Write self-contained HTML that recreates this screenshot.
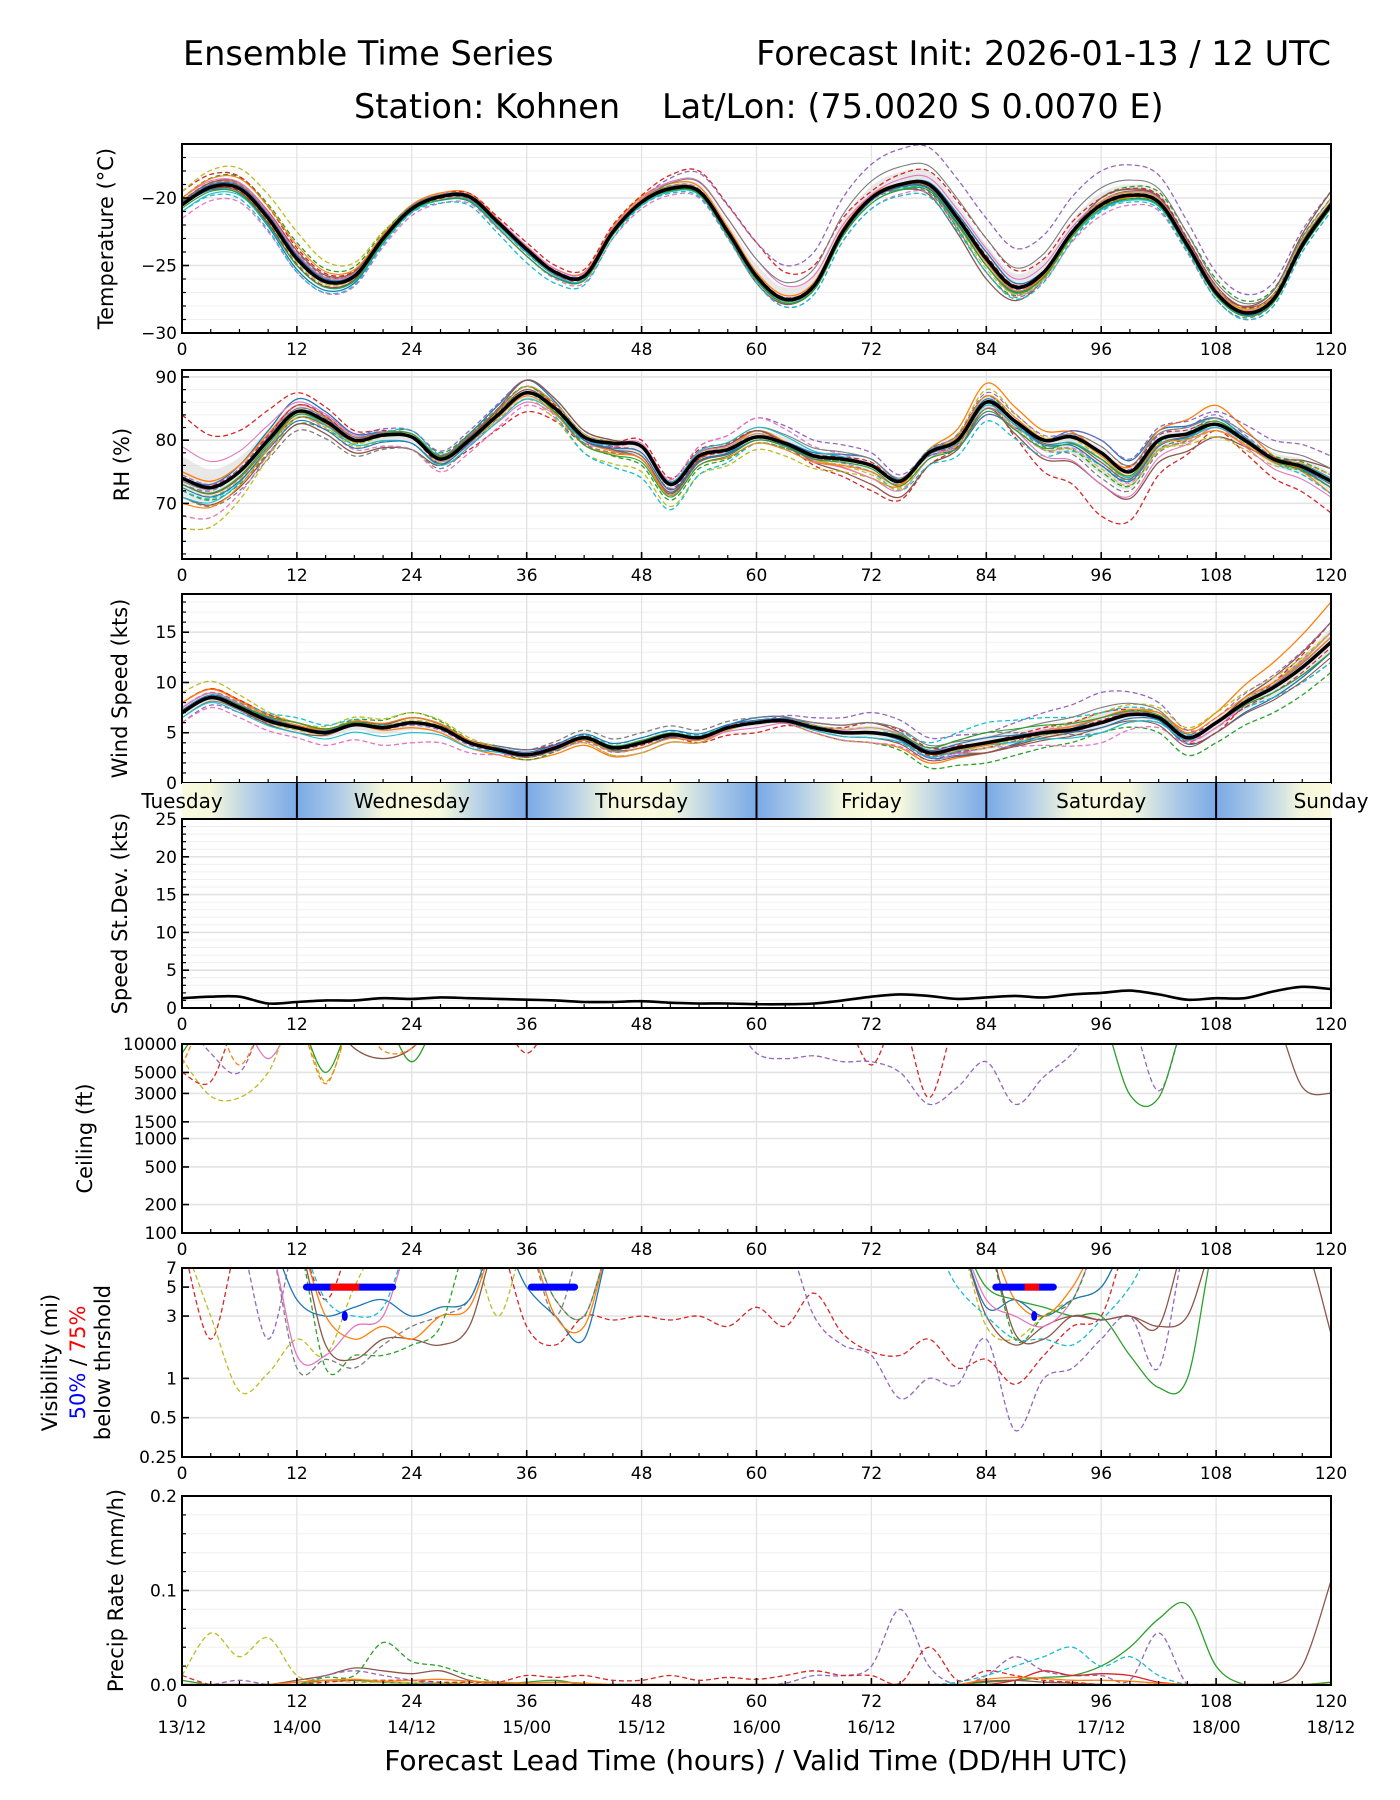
<!DOCTYPE html>
<html><head><meta charset="utf-8"><style>
body{margin:0;background:#fff}
svg{display:block;font-family:"DejaVu Sans","Liberation Sans",sans-serif}
</style></head><body>
<svg id="fig" width="1400" height="1800" viewBox="0 0 1400 1800">
<defs>
<linearGradient id="dayg" x1="182" x2="1331" y1="0" y2="0" gradientUnits="userSpaceOnUse"></linearGradient>
</defs>
<text x="183" y="65" font-size="33.5">Ensemble Time Series</text>
<text x="1331" y="65" font-size="33.5" text-anchor="end">Forecast Init: 2026-01-13 / 12 UTC</text>
<text x="354" y="118" font-size="33.5">Station: Kohnen</text>
<text x="662" y="118" font-size="33.5">Lat/Lon: (75.0020 S 0.0070 E)</text>
<g id="plots"></g>
<text x="756" y="1770" font-size="28" text-anchor="middle">Forecast Lead Time (hours) / Valid Time (DD/HH UTC)</text>
</svg>
<script>
const hours=[0,3,6,9,12,15,18,21,24,27,30,33,36,39,42,45,48,51,54,57,60,63,66,69,72,75,78,81,84,87,90,93,96,99,102,105,108,111,114,117,120];
const knots=[0,12,24,36,48,60,72,84,96,108,120];
const colors=["#1f77b4","#ff7f0e","#2ca02c","#d62728","#9467bd","#8c564b","#e377c2","#7f7f7f","#bcbd22","#17becf"];
const dashed=[false,false,true,true,true,false,true,true,true,true];
const tempMean=[-20.5,-19.2,-19.3,-21.5,-24.5,-26.2,-25.8,-23.0,-20.8,-19.9,-19.9,-21.8,-23.8,-25.5,-25.8,-22.5,-20.3,-19.3,-19.5,-22.5,-25.8,-27.5,-26.5,-22.5,-20.0,-19.0,-19.0,-21.5,-24.5,-26.6,-25.5,-22.5,-20.5,-19.8,-20.3,-23.5,-27.0,-28.5,-27.5,-23.5,-20.5];
const tempOff=[[0,-0.8,-0.2,-0.5,0,-0.3,-0.2,0.5,-0.3,-0.2,0],[0.3,0.3,0.3,0.2,0.4,0.3,0.2,-0.5,0.2,0.3,0.2],[0.5,1.2,0.2,0,0.2,0,0,-1,0.5,1,0.5],[1,0.8,0,0.5,0.5,2.5,0.5,1.5,0.5,0.5,0],[0.2,0.3,0.2,0,0.2,2.5,2.5,3,2.5,1.5,1],[0,-0.5,0,0,0,-0.5,0,-1.5,0.5,0.3,1],[-1,-1,-0.5,-0.5,-0.5,-0.5,-0.8,-0.5,-0.8,-0.5,-0.5],[0.3,0.5,0,-0.3,0.2,-0.3,-0.2,-1,0,-0.5,0],[1,2,0,0,0.3,0,0,-0.5,-0.5,0.3,0],[-0.5,-1,-0.3,-1,-0.3,-0.5,-0.8,-1,-0.5,-0.5,-0.5]];
const rhMean=[74,72.5,75,80,84.5,83,80,80.8,80.5,77,80,84,87.5,85,80.5,79.5,79,73,77.5,78.5,80.5,79.5,77.5,77,76,73.5,78,80,86,83,80,80.5,78,75,80,81,82.5,80,77,75.8,73.5];
const rhOff=[[0,2,0,2,-2,0,1,-2,2,1,-1],[1,1,0,1,-2,1,-2,3,0,3,-2],[-2,-2,1,1,-3,-1,0,1,-3,0,1],[10,3,0,-3,1,1,-4,0,-10,-1,-5],[-1,1,1,2,0,3,2,-2,2,2,4],[-3,-2,-2,2,0,1,-3,-1,-5,-2,2],[-6,-1,-2,-2,0,3,0,-1,-2,-1,1],[-3,-3,-2,0,-2,-1,0,1,-4,0,-1],[-8,-1,0,-1,-4,-2,-2,2,-1,-2,0],[-2,-1,1,0,-5,-1,-1,-3,-2,1,-2]];
const windMean=[7,8.5,7.5,6.2,5.5,5,5.8,5.5,6,5.5,4,3.3,2.8,3.5,4.5,3.5,4,4.8,4.5,5.5,6,6.2,5.5,5,5,4.5,3,3.5,4,4.5,5,5.3,6,6.8,6.5,4.5,6,8,9.5,11.5,14];
const windOff=[[0,0.5,0,0.5,-0.5,0.5,0,-1,0.5,-1,-1],[1,0.5,-0.5,-0.5,-1,0,-1,-1,0,1,4],[0,0,1,-0.5,0,0,-1,-2,-1,-2,-3],[1,0.5,0,0.5,0,-1,1,0,1,-1,2],[-1,0,0,0,0,0,2,1,3,0,1],[0,-0.5,0.5,0,0,0,1,-1,0,0,2],[-1,-1,-2,0,-1,0,-1,-0.5,-2,0,0],[0.5,0.5,0,0.5,1,0.5,0,1,-1,0,-2],[2,0.5,1,0,-1,0,0,-0.5,1,1,1],[0,1,0,0,0.5,0,0,2,1,0,-2]];
const sdMean=[1.3,1.5,1.5,0.6,0.8,1.0,1.0,1.3,1.2,1.4,1.3,1.2,1.1,1.0,0.8,0.8,0.9,0.7,0.6,0.6,0.5,0.5,0.6,1.0,1.5,1.8,1.6,1.2,1.4,1.6,1.4,1.8,2.0,2.3,1.8,1.1,1.3,1.3,2.2,2.8,2.5];
const H=20000;
const ceilMembers=[
 {c:6,d:false,v:[H,H,H,7000,H,H,H,H,H,H,H,H,H,H,H,H,H,H,H,H,H,H,H,H,H,H,H,H,H,H,H,H,H,H,H,H,H,H,H,H,H]},
 {c:8,d:true,v:[7000,2800,2700,5000,H,4000,H,H,H,H,H,H,H,H,H,H,H,H,H,H,H,H,H,H,H,H,H,H,H,H,H,H,H,H,H,H,H,H,H,H,H]},
 {c:3,d:true,v:[5000,4000,H,H,H,H,H,H,H,H,H,H,8000,H,H,H,H,H,H,H,H,H,H,H,6000,H,2700,H,H,H,H,H,H,H,H,H,H,H,H,H,H]},
 {c:4,d:true,v:[H,8000,5000,H,H,H,H,H,H,H,H,H,H,H,H,H,H,H,H,H,8000,7000,7500,6500,6500,5000,2300,3500,6500,2300,4500,8000,H,H,3200,H,H,H,H,H,H]},
 {c:2,d:false,v:[8000,H,H,H,H,5000,H,H,6500,H,H,H,H,H,H,H,H,H,H,H,H,H,H,H,H,H,H,H,H,H,H,H,H,2900,2700,H,H,H,H,H,H]},
 {c:5,d:false,v:[H,H,H,H,H,H,9000,7000,9000,H,H,H,H,H,H,H,H,H,H,H,H,H,H,H,H,H,H,H,H,H,H,H,H,H,H,H,H,H,H,3500,3000]},
 {c:1,d:true,v:[6000,H,6000,H,H,3800,H,8500,9000,H,H,H,H,H,H,H,H,H,H,H,H,H,H,H,H,H,H,H,H,H,H,H,H,H,H,H,H,H,H,H,H]}
];
const V=12;
const visMembers=[
 {c:3,d:true,v:[V,2,V,V,V,4,V,V,V,V,V,V,2.5,1.8,3,2.8,3,2.8,3,2.5,3.5,2.5,4.5,2.2,1.6,1.5,2,1.2,1.4,0.9,1.5,2.5,3,V,V,V,V,V,V,V,V]},
 {c:4,d:true,v:[V,V,V,2,V,V,V,V,V,V,V,V,V,V,V,V,V,V,V,V,V,V,3,1.8,1.5,0.7,1,0.9,2,0.4,1,1.2,2,3,1.2,V,V,V,V,V,V]},
 {c:2,d:false,v:[V,V,V,V,V,V,V,V,V,V,V,V,V,V,V,V,V,V,V,V,V,V,V,V,V,V,V,V,5,4,3.5,3,3,1.5,0.85,1,V,V,V,V,V]},
 {c:8,d:true,v:[V,3,0.8,1.1,2,1.5,5,V,V,V,V,3,V,V,V,V,V,V,V,V,V,V,V,V,V,V,V,V,2.5,2,3,4,5,V,V,V,V,V,V,V,V]},
 {c:5,d:false,v:[V,V,V,V,V,1.8,1.4,2,2,1.8,2.5,V,V,V,V,V,V,V,V,V,V,V,V,V,V,V,V,V,3,1.8,2.5,3,2.8,3,2.5,V,V,V,V,V,V]},
 {c:7,d:true,v:[V,V,V,V,1.2,1.4,1.2,1.8,2.5,3,4,V,V,3,V,V,V,V,V,V,V,V,V,V,V,V,V,V,V,V,V,V,V,V,V,V,V,V,V,V,V]},
 {c:0,d:false,v:[V,V,V,V,4,3,3.5,4,3,3.5,4,V,5,3,2,V,V,V,V,V,V,V,V,V,V,V,V,V,3.5,4,3,4,5,V,V,V,V,V,V,V,V]},
 {c:1,d:false,v:[V,V,V,V,V,3,2,2.5,2,3,3.5,V,V,3,2.5,V,V,V,V,V,V,V,V,V,V,V,V,V,V,4,3,5,V,V,V,V,V,V,V,V,V]},
 {c:9,d:true,v:[V,V,V,V,V,4,3,3.5,V,V,V,V,V,V,V,V,V,V,V,V,V,V,V,V,V,V,V,5,3,2,2,1.8,2.8,5,V,V,V,V,V,V,V]},
 {c:6,d:false,v:[V,V,V,V,1.5,1.5,2.5,3,V,V,V,V,V,4,3,V,V,V,V,V,V,V,V,V,V,V,V,V,4,3,2.5,4,V,V,V,V,V,V,V,V,V]},
 {c:2,d:true,v:[V,V,V,V,V,1.2,1.5,1.5,1.8,2.5,V,V,V,4,3,V,V,V,V,V,V,V,V,V,V,V,V,V,V,2,3,4,V,V,V,V,V,V,V,V,V]},
 {c:5,d:false,v:[V,V,V,V,V,V,V,V,V,V,V,V,V,V,V,V,V,V,V,V,V,V,V,V,V,V,V,V,V,2.2,2,3,2.8,3,2.5,3,V,V,V,V,2.2]}
];
const visBlue=[[13,22],[36.5,41],[85,91]];
const visRed=[[15.5,18.5],[88,89.5]];
const visDots=[[17,3],[89,3]];
const precipMembers=[
 {c:2,d:false,v:[0.005,0,0,0,0,0.005,0.005,0.003,0.002,0.002,0,0,0.003,0.005,0,0,0,0,0,0,0,0,0,0,0,0,0,0,0.003,0.005,0.008,0.01,0.02,0.04,0.07,0.085,0.02,0,0,0,0.003]},
 {c:8,d:true,v:[0.01,0.055,0.03,0.05,0.01,0.005,0.003,0.003,0.002,0.002,0.002,0.001,0,0,0,0,0,0,0,0,0,0,0,0,0,0,0,0,0,0,0,0,0,0,0,0,0,0,0,0,0]},
 {c:5,d:false,v:[0,0,0,0,0.005,0.01,0.018,0.015,0.012,0.015,0.005,0.002,0,0,0,0,0,0,0,0,0,0,0,0,0,0,0,0,0.004,0.005,0.003,0.002,0,0,0,0,0,0,0,0.02,0.11]},
 {c:4,d:true,v:[0,0,0.005,0,0,0.01,0.015,0.01,0.005,0,0,0,0,0,0,0,0,0,0,0,0,0.002,0.01,0.01,0.02,0.08,0.02,0,0.01,0.03,0.015,0.01,0.01,0.005,0.055,0,0,0,0,0,0]},
 {c:3,d:true,v:[0.01,0,0,0,0,0.003,0.005,0.005,0.005,0.003,0.003,0.003,0.01,0.008,0.01,0.005,0.005,0.01,0.005,0.008,0.006,0.01,0.015,0.01,0.01,0.002,0.04,0.005,0.015,0.01,0.005,0.003,0,0,0,0,0,0,0,0,0]},
 {c:9,d:true,v:[0,0,0,0,0,0,0,0,0,0,0,0,0,0,0,0,0,0,0,0,0,0,0,0,0,0,0,0.003,0.01,0.02,0.03,0.04,0.02,0.03,0.01,0,0,0,0,0,0]},
 {c:2,d:true,v:[0,0,0,0,0,0.008,0.01,0.045,0.025,0.02,0.01,0.003,0,0,0,0,0,0,0,0,0,0,0,0,0,0,0,0,0,0,0,0,0,0,0,0,0,0,0,0,0]},
 {c:3,d:false,v:[0,0,0,0,0,0,0,0,0,0,0,0,0,0,0,0,0,0,0,0,0,0,0,0,0,0,0,0,0,0.005,0.015,0.01,0.012,0.01,0.003,0,0,0,0,0,0]},
 {c:1,d:false,v:[0,0,0,0,0.003,0.005,0.006,0.004,0.005,0.006,0.004,0.003,0.002,0.003,0.002,0,0,0,0,0,0,0,0,0,0,0,0,0,0.006,0.008,0.007,0.005,0.005,0.004,0.002,0,0,0,0,0,0]}
];
const xTickLabels=["0","12","24","36","48","60","72","84","96","108","120"];
const dateLabels=["13/12","14/00","14/12","15/00","15/12","16/00","16/12","17/00","17/12","18/00","18/12"];
const dayNames=["Tuesday","Wednesday","Thursday","Friday","Saturday","Sunday"];

const NS="http://www.w3.org/2000/svg";
const L=182,R=1331,PH=189;
const X=h=>L+h*(R-L)/120;
function mk(tag,attrs,parent){const e=document.createElementNS(NS,tag);for(const k in attrs)e.setAttribute(k,attrs[k]);parent.appendChild(e);return e;}
const root=document.getElementById('plots');
function smooth(pts){let d="M"+pts[0][0].toFixed(1)+","+pts[0][1].toFixed(1);
 for(let i=0;i<pts.length-1;i++){const p0=pts[Math.max(i-1,0)],p1=pts[i],p2=pts[i+1],p3=pts[Math.min(i+2,pts.length-1)];
  const c1=[p1[0]+(p2[0]-p0[0])/6,p1[1]+(p2[1]-p0[1])/6],c2=[p2[0]-(p3[0]-p1[0])/6,p2[1]-(p3[1]-p1[1])/6];
  d+="C"+c1[0].toFixed(1)+","+c1[1].toFixed(1)+" "+c2[0].toFixed(1)+","+c2[1].toFixed(1)+" "+p2[0].toFixed(1)+","+p2[1].toFixed(1);}
 return d;}
function interpOff(off,h){for(let i=0;i<knots.length-1;i++){if(h<=knots[i+1]){const t=(h-knots[i])/12;return off[i]*(1-t)+off[i+1]*t;}}return off[off.length-1];}
let pid=0;
function panel(name,top,ymin,ymax,log,ticks,minor,ylabel,showX){
 const g=mk('g',{},root);
 
 
 const f=log?(v=>Math.log10(v)):(v=>v);
 const Y=v=>top+PH-(f(v)-f(ymin))/(f(ymax)-f(ymin))*PH;
 const id='clip'+(pid++);
 const cp=mk('clipPath',{id:id},g);mk('rect',{x:L,y:top,width:R-L,height:PH},cp);
 minor.forEach(v=>{const l=mk('line',{x1:L,x2:R,y1:Y(v),y2:Y(v),stroke:'#f0f0f0','stroke-width':1},g);});
 ticks.forEach(t=>{const l=mk('line',{x1:L,x2:R,y1:Y(t[0]),y2:Y(t[0]),stroke:'#e3e3e3','stroke-width':1.6},g);});
 for(let h=12;h<120;h+=12){const l=mk('line',{x1:X(h),x2:X(h),y1:top,y2:top+PH,stroke:'#e3e3e3','stroke-width':1.3},g);}
 const data=mk('g',{'clip-path':'url(#'+id+')'},g);
 
 
 const fr=mk('rect',{x:L,y:top,width:R-L,height:PH,fill:'none',stroke:'#000','stroke-width':2},g);
 
 for(let h=0;h<=120;h+=3){const maj=h%12==0;mk('line',{x1:X(h),x2:X(h),y1:top+PH,y2:top+PH-(maj?7:4),stroke:'#000','stroke-width':maj?1.6:1.2},g);}
 ticks.forEach(t=>{mk('line',{x1:L,x2:L+7,y1:Y(t[0]),y2:Y(t[0]),stroke:'#000','stroke-width':1.6},g);
  const tx=mk('text',{x:L-5,y:Y(t[0])+6,'font-size':17,'text-anchor':'end'},g);tx.textContent=t[1];
  });
 minor.forEach(v=>mk('line',{x1:L,x2:L+4,y1:Y(v),y2:Y(v),stroke:'#000','stroke-width':1.2},g));
 if(showX!==false)xTickLabels.forEach((s,i)=>{const tx=mk('text',{x:X(knots[i]),y:top+PH+22,'font-size':17,'text-anchor':'middle'},g);tx.textContent=s;
  });
 if(ylabel){ylabel.forEach((ln,i)=>{const cy=top+PH/2;const tx=mk('text',{x:ln.x,y:cy,'font-size':21,'text-anchor':'middle',transform:'rotate(-90 '+ln.x+' '+cy+')'},g);
  tx.innerHTML=ln.t;});}
 return {g,data,Y};
}
function drawLine(p,vals,color,dash,w,nm){const pts=hours.map((h,i)=>[X(h),p.Y(vals[i])]);
 const e=mk('path',{d:smooth(pts),fill:'none',stroke:color,'stroke-width':w,'stroke-dasharray':dash?'5,3':'none','stroke-linejoin':'round'},p.data);
 return e;}
function ensemble(p,mean,offs,band){
 const up=[],lo=[];hours.forEach((h,i)=>{let mx=-1e9,mn=1e9;offs.forEach(o=>{const v=interpOff(o,h);mx=Math.max(mx,v);mn=Math.min(mn,v);});up.push([X(h),p.Y(mean[i]+mx*band)]);lo.push([X(h),p.Y(mean[i]+mn*band)]);});
 const bd=smooth(up)+"L"+smooth(lo.reverse()).slice(1)+"Z";
 const b=mk('path',{d:bd,fill:'#d8d8d8','fill-opacity':0.6,stroke:'none'},p.data);
 offs.forEach((o,m)=>{drawLine(p,mean.map((v,i)=>v+interpOff(o,hours[i])),colors[m],dashed[m],1.3,'member-'+m);});
 offs.forEach((o,m)=>{drawLine(p,mean.map((v,i)=>v+0.5*interpOff(o,hours[i])),colors[(m+3)%10],!dashed[m],1.1,'member-b-'+m);});
 drawLine(p,mean,'#000',false,3.5,'ensemble-mean');
}
const rng=(a,b,s)=>{const r=[];for(let v=a;v<=b+1e-9;v+=s)r.push(+v.toFixed(3));return r;};
let p=panel('temperature',144,-30,-16,false,[[-20,'\u221220'],[-25,'\u221225'],[-30,'\u221230']],rng(-29,-17,1).filter(v=>v%5),[{x:113,t:'Temperature (°C)'}]);
ensemble(p,tempMean,tempOff,0.35);
p=panel('rh',370,61.2,91.1,false,[[90,'90'],[80,'80'],[70,'70']],rng(62,90,2).filter(v=>v%10),[{x:129,t:'RH (%)'}]);
ensemble(p,rhMean,rhOff,0.35);
p=panel('wind-speed',594,0,18.8,false,[[15,'15'],[10,'10'],[5,'5'],[0,'0']],rng(1,18,1).filter(v=>v%5),[{x:127,t:'Wind Speed (kts)'}],false);
ensemble(p,windMean,windOff,0.35);
(function(){const g=document.getElementById('dayg');
 for(let h=-12;h<=132;h+=24){[[h,'#7aa9e6'],[h+4,'#a9c8e8'],[h+9,'#f5f8dc'],[h+12,'#fafade'],[h+15,'#f5f8dc'],[h+20,'#a9c8e8'],[h+24,'#7aa9e6']].forEach(s=>{const o=(s[0])/120;if(o>=0&&o<=1)mk('stop',{offset:o,'stop-color':s[1]},g);});}
 const bg=mk('g',{},root);
 mk('rect',{x:L,y:783,width:R-L,height:36,fill:'url(#dayg)'},bg);
 [12,36,60,84,108].forEach(h=>mk('line',{x1:X(h),x2:X(h),y1:783,y2:819,stroke:'#000','stroke-width':2},bg));
 dayNames.forEach((d,i)=>{const t=mk('text',{x:X(i*24),y:808,'font-size':20,'text-anchor':'middle'},bg);t.textContent=d;});
})();
p=panel('speed-stddev',819,0,25,false,[[25,'25'],[20,'20'],[15,'15'],[10,'10'],[5,'5'],[0,'0']],rng(1,24,1).filter(v=>v%5),[{x:127,t:'Speed St.Dev. (kts)'}]);
drawLine(p,sdMean,'#000',false,2.6,'stddev-line');
p=panel('ceiling',1044,100,10000,true,[[10000,'10000'],[5000,'5000'],[3000,'3000'],[1500,'1500'],[1000,'1000'],[500,'500'],[200,'200'],[100,'100']],[],[{x:92,t:'Ceiling (ft)'}]);
ceilMembers.forEach((m,i)=>drawLine(p,m.v,colors[m.c],m.d,1.3,'ceiling-member-'+i));
p=panel('visibility',1268,0.25,7,true,[[7,'7'],[5,'5'],[3,'3'],[1,'1'],[0.5,'0.5'],[0.25,'0.25']],[],[{x:57,t:'Visibility (mi)'},{x:85,t:'<tspan fill="#0000ff">50%</tspan> / <tspan fill="#ff0000">75%</tspan>'},{x:110,t:'below thrshold'}]);
visMembers.forEach((m,i)=>drawLine(p,m.v,colors[m.c],m.d,1.3,'visibility-member-'+i));
visBlue.forEach(s=>{const e=mk('line',{x1:X(s[0]),x2:X(s[1]),y1:p.Y(5),y2:p.Y(5),stroke:'#0000ff','stroke-width':7,'stroke-linecap':'round'},p.g);});
visRed.forEach(s=>{const e=mk('line',{x1:X(s[0]),x2:X(s[1]),y1:p.Y(5),y2:p.Y(5),stroke:'#ff0000','stroke-width':7},p.g);});
visDots.forEach(s=>{const e=mk('ellipse',{cx:X(s[0]),cy:p.Y(s[1]),rx:3,ry:5,fill:'#0000ff'},p.g);});
p=panel('precip',1496,0,0.2,false,[[0.2,'0.2'],[0.1,'0.1'],[0,'0.0']],rng(0.02,0.18,0.02).filter(v=>Math.abs(v-0.1)>1e-6),[{x:123,t:'Precip Rate (mm/h)'}]);
precipMembers.forEach((m,i)=>drawLine(p,m.v.map(v=>Math.max(v,0.0005)),colors[m.c],m.d,1.3,'precip-member-'+i));
dateLabels.forEach((s,i)=>{const t=mk('text',{x:X(knots[i]),y:1733,'font-size':17,'text-anchor':'middle'},root);t.textContent=s;});
</script>
</body></html>
